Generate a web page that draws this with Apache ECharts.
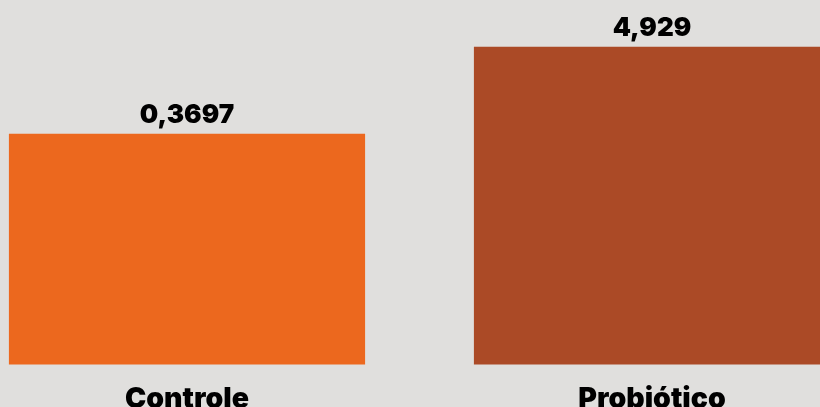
<!DOCTYPE html>
<html><head><meta charset="utf-8">
<script src="https://cdn.jsdelivr.net/npm/echarts@6/dist/echarts.min.js"></script>
<style>html,body{margin:0;padding:0;background:#e0dfdd;}#c{width:820px;height:407px;}</style>
</head><body><div id="c"></div>
<script>
const categories = ['Controle', 'Probiótico'];
const values = [0.3697, 4.929];
const valueLabels = ['0,3697', '4,929'];
const colors = ['#ec681e', '#ab4a26'];

const yMin = 0.000384, yMax = 19.8;
const chart = echarts.init(document.getElementById('c'), null, {renderer: 'canvas'});
const font = 'Inter, Lato, "DejaVu Sans", sans-serif';
chart.setOption({
  backgroundColor: '#e0dfdd',
  animation: false,
  grid: {left: -45.5, width: 930, top: 0, bottom: 42.5, containLabel: false, outerBoundsMode: 'none'},
  xAxis: {
    type: 'category', data: categories,
    axisLine: {show: false}, axisTick: {show: false},
    axisLabel: {color: '#000', fontFamily: font, fontWeight: 900, fontSize: 28.5, margin: 20, interval: 0}
  },
  yAxis: {
    type: 'log', logBase: 10, min: yMin, max: yMax,
    show: false, splitLine: {show: false}
  },
  series: [{
    type: 'custom',
    data: values.map((v, i) => [i, v]),
    encode: {x: 0, y: 1},
    renderItem: function (params, api) {
      const i = api.value(0), v = api.value(1);
      const top = api.coord([i, v]);
      const bottom = api.coord([i, yMin]);
      const bw = api.size([1, 0])[0] * (1 - 0.234);
      return {
        type: 'group',
        children: [{
          type: 'rect',
          shape: {x: top[0] - bw / 2, y: top[1], width: bw, height: bottom[1] - top[1]},
          style: {fill: colors[params.dataIndex]}
        }, {
          type: 'text',
          x: top[0], y: top[1] - 6,
          style: {
            text: valueLabels[params.dataIndex], fill: '#000',
            font: '900 26px ' + font, align: 'center', verticalAlign: 'bottom'
          }
        }]
      };
    }
  }]
});
</script></body></html>
